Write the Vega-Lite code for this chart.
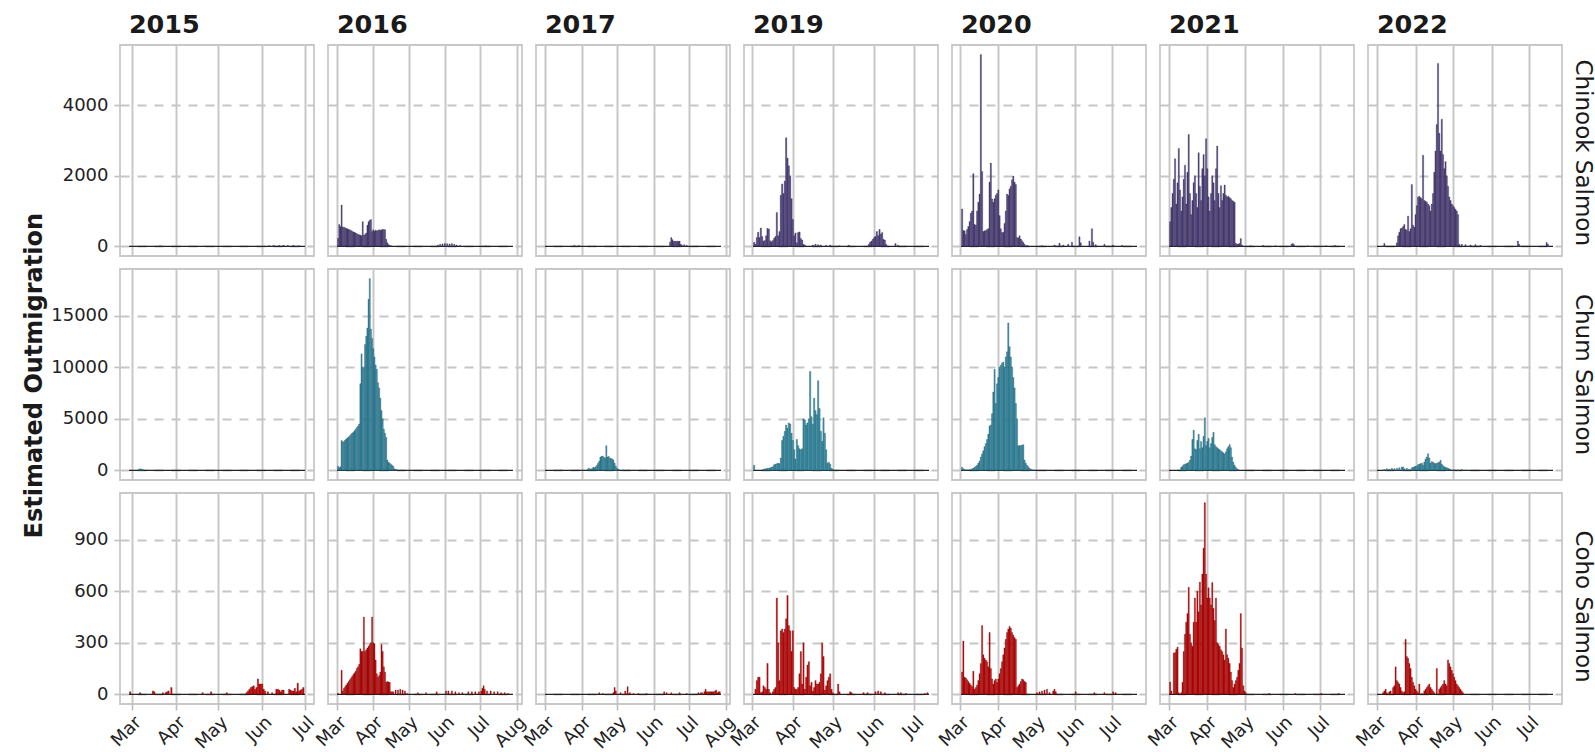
{
  "$schema": "https://vega.github.io/schema/vega-lite/v6.json",
  "background": "white",
  "padding": {"left": 22, "top": 12, "right": 2, "bottom": 0},
  "title": {"text": "Estimated Outmigration", "orient": "left", "anchor": "middle", "fontSize": 24, "fontWeight": "bold", "font": "DejaVu Sans", "color": "#1a1a1a", "offset": 4, "dx": 7},
  "config": {
    "font": "DejaVu Sans",
    "view": {"stroke": "#c8c8c8", "strokeWidth": 1.8},
    "facet": {"spacing": 14},
    "concat": {"spacing": 11},
    "axis": {"labelFont": "DejaVu Sans", "labelFontSize": 18, "labelColor": "#222222", "gridColor": "#c6c6c6", "gridWidth": 1.9, "tickColor": "#bdbdbd", "tickWidth": 1.6, "tickSize": 6, "domain": false, "title": null},
    "title": {"font": "DejaVu Sans", "color": "#1a1a1a"}
  },
  "datasets": {
    "chinook": [
      {"t":"2015-02-27","e":"2015-07-01"},{"t":"2016-03-01","e":"2016-07-29"},{"t":"2017-03-01","e":"2017-07-28"},{"t":"2019-03-02","e":"2019-07-12"},{"t":"2020-03-02","e":"2020-07-21"},{"t":"2021-03-01","e":"2021-07-21"},{"t":"2022-03-01","e":"2022-07-20"},
      {"t":"2015-03-20","v":15},{"t":"2015-04-20","v":10},{"t":"2015-06-05","v":20},{"t":"2015-06-08","v":30},{"t":"2015-06-12","v":25},{"t":"2015-06-15","v":35},{"t":"2015-06-18","v":25},{"t":"2015-06-22","v":30},{"t":"2015-06-26","v":20},
      {"t":"2016-03-01","v":230},{"t":"2016-03-02","v":620},{"t":"2016-03-03","v":560},{"t":"2016-03-04","v":1170},{"t":"2016-03-05","v":550},{"t":"2016-03-06","v":540},{"t":"2016-03-07","v":530},{"t":"2016-03-08","v":510},{"t":"2016-03-09","v":500},{"t":"2016-03-10","v":480},{"t":"2016-03-11","v":470},{"t":"2016-03-12","v":450},{"t":"2016-03-13","v":430},{"t":"2016-03-14","v":410},{"t":"2016-03-15","v":400},{"t":"2016-03-16","v":380},{"t":"2016-03-17","v":360},{"t":"2016-03-18","v":340},{"t":"2016-03-19","v":330},{"t":"2016-03-20","v":320},{"t":"2016-03-21","v":300},{"t":"2016-03-22","v":700},{"t":"2016-03-23","v":320},{"t":"2016-03-24","v":340},{"t":"2016-03-25","v":380},{"t":"2016-03-26","v":600},{"t":"2016-03-27","v":700},{"t":"2016-03-28","v":740},{"t":"2016-03-29","v":760},{"t":"2016-03-30","v":420},{"t":"2016-03-31","v":470},{"t":"2016-04-01","v":430},{"t":"2016-04-02","v":460},{"t":"2016-04-03","v":440},{"t":"2016-04-04","v":450},{"t":"2016-04-05","v":470},{"t":"2016-04-06","v":460},{"t":"2016-04-07","v":470},{"t":"2016-04-08","v":480},{"t":"2016-04-09","v":480},{"t":"2016-04-10","v":470},{"t":"2016-04-11","v":200},{"t":"2016-04-12","v":100},{"t":"2016-04-13","v":50},{"t":"2016-04-14","v":30},{"t":"2016-04-15","v":20},{"t":"2016-05-25","v":40},{"t":"2016-05-27","v":60},{"t":"2016-05-29","v":70},{"t":"2016-05-31","v":80},{"t":"2016-06-02","v":75},{"t":"2016-06-04","v":70},{"t":"2016-06-06","v":80},{"t":"2016-06-08","v":60},{"t":"2016-06-10","v":40},{"t":"2016-06-13","v":30},{"t":"2016-07-05","v":15},
      {"t":"2017-03-25","v":30},{"t":"2017-03-29","v":25},{"t":"2017-06-14","v":120},{"t":"2017-06-15","v":250},{"t":"2017-06-16","v":190},{"t":"2017-06-17","v":140},{"t":"2017-06-18","v":150},{"t":"2017-06-19","v":140},{"t":"2017-06-20","v":150},{"t":"2017-06-21","v":140},{"t":"2017-06-22","v":150},{"t":"2017-06-23","v":60},{"t":"2017-06-24","v":40},{"t":"2017-06-26","v":50},{"t":"2017-06-28","v":30},
      {"t":"2019-03-02","v":120},{"t":"2019-03-03","v":60},{"t":"2019-03-04","v":250},{"t":"2019-03-05","v":400},{"t":"2019-03-06","v":250},{"t":"2019-03-07","v":520},{"t":"2019-03-08","v":280},{"t":"2019-03-09","v":150},{"t":"2019-03-10","v":170},{"t":"2019-03-11","v":300},{"t":"2019-03-12","v":510},{"t":"2019-03-13","v":490},{"t":"2019-03-14","v":160},{"t":"2019-03-15","v":130},{"t":"2019-03-16","v":170},{"t":"2019-03-17","v":230},{"t":"2019-03-18","v":280},{"t":"2019-03-19","v":960},{"t":"2019-03-20","v":300},{"t":"2019-03-21","v":420},{"t":"2019-03-22","v":1450},{"t":"2019-03-23","v":1770},{"t":"2019-03-24","v":1500},{"t":"2019-03-25","v":1850},{"t":"2019-03-26","v":3075},{"t":"2019-03-27","v":2500},{"t":"2019-03-28","v":2280},{"t":"2019-03-29","v":2000},{"t":"2019-03-30","v":1350},{"t":"2019-03-31","v":760},{"t":"2019-04-01","v":300},{"t":"2019-04-02","v":380},{"t":"2019-04-03","v":100},{"t":"2019-04-04","v":390},{"t":"2019-04-05","v":410},{"t":"2019-04-06","v":220},{"t":"2019-04-07","v":180},{"t":"2019-04-08","v":60},{"t":"2019-04-09","v":40},{"t":"2019-04-15","v":40},{"t":"2019-04-17","v":60},{"t":"2019-04-19","v":50},{"t":"2019-04-21","v":40},{"t":"2019-04-25","v":30},{"t":"2019-04-28","v":40},{"t":"2019-05-05","v":20},{"t":"2019-05-12","v":30},{"t":"2019-05-27","v":60},{"t":"2019-05-28","v":120},{"t":"2019-05-29","v":150},{"t":"2019-05-30","v":200},{"t":"2019-05-31","v":250},{"t":"2019-06-01","v":280},{"t":"2019-06-02","v":420},{"t":"2019-06-03","v":300},{"t":"2019-06-04","v":480},{"t":"2019-06-05","v":350},{"t":"2019-06-06","v":390},{"t":"2019-06-07","v":200},{"t":"2019-06-08","v":180},{"t":"2019-06-09","v":60},{"t":"2019-06-16","v":80},{"t":"2019-06-18","v":30},
      {"t":"2020-03-02","v":1060},{"t":"2020-03-03","v":450},{"t":"2020-03-04","v":440},{"t":"2020-03-05","v":340},{"t":"2020-03-06","v":480},{"t":"2020-03-07","v":560},{"t":"2020-03-08","v":700},{"t":"2020-03-09","v":940},{"t":"2020-03-10","v":1000},{"t":"2020-03-11","v":2060},{"t":"2020-03-12","v":620},{"t":"2020-03-13","v":600},{"t":"2020-03-14","v":1000},{"t":"2020-03-15","v":1250},{"t":"2020-03-16","v":1480},{"t":"2020-03-17","v":5430},{"t":"2020-03-18","v":2120},{"t":"2020-03-19","v":420},{"t":"2020-03-20","v":440},{"t":"2020-03-21","v":450},{"t":"2020-03-22","v":480},{"t":"2020-03-23","v":500},{"t":"2020-03-24","v":1820},{"t":"2020-03-25","v":2360},{"t":"2020-03-26","v":1340},{"t":"2020-03-27","v":1250},{"t":"2020-03-28","v":1350},{"t":"2020-03-29","v":1450},{"t":"2020-03-30","v":1500},{"t":"2020-03-31","v":1600},{"t":"2020-04-01","v":870},{"t":"2020-04-02","v":500},{"t":"2020-04-03","v":390},{"t":"2020-04-04","v":400},{"t":"2020-04-05","v":650},{"t":"2020-04-06","v":1000},{"t":"2020-04-07","v":1480},{"t":"2020-04-08","v":1440},{"t":"2020-04-09","v":1630},{"t":"2020-04-10","v":1700},{"t":"2020-04-11","v":1885},{"t":"2020-04-12","v":1990},{"t":"2020-04-13","v":1820},{"t":"2020-04-14","v":1750},{"t":"2020-04-15","v":250},{"t":"2020-04-16","v":240},{"t":"2020-04-17","v":300},{"t":"2020-04-18","v":210},{"t":"2020-04-19","v":160},{"t":"2020-04-20","v":110},{"t":"2020-04-21","v":60},{"t":"2020-04-23","v":30},{"t":"2020-05-05","v":20},{"t":"2020-05-15","v":40},{"t":"2020-05-19","v":90},{"t":"2020-05-22","v":40},{"t":"2020-05-26","v":60},{"t":"2020-05-29","v":120},{"t":"2020-06-04","v":270},{"t":"2020-06-05","v":100},{"t":"2020-06-12","v":150},{"t":"2020-06-14","v":500},{"t":"2020-06-15","v":120},{"t":"2020-06-17","v":50},{"t":"2020-06-24","v":60},{"t":"2020-07-01","v":40},{"t":"2020-07-08","v":30},
      {"t":"2021-03-01","v":700},{"t":"2021-03-02","v":1100},{"t":"2021-03-03","v":1500},{"t":"2021-03-04","v":1900},{"t":"2021-03-05","v":2480},{"t":"2021-03-06","v":1200},{"t":"2021-03-07","v":1800},{"t":"2021-03-08","v":2770},{"t":"2021-03-09","v":1600},{"t":"2021-03-10","v":1000},{"t":"2021-03-11","v":1400},{"t":"2021-03-12","v":1900},{"t":"2021-03-13","v":2300},{"t":"2021-03-14","v":1200},{"t":"2021-03-15","v":2100},{"t":"2021-03-16","v":3170},{"t":"2021-03-17","v":1500},{"t":"2021-03-18","v":900},{"t":"2021-03-19","v":1300},{"t":"2021-03-20","v":1800},{"t":"2021-03-21","v":2000},{"t":"2021-03-22","v":1500},{"t":"2021-03-23","v":1100},{"t":"2021-03-24","v":2650},{"t":"2021-03-25","v":1700},{"t":"2021-03-26","v":1300},{"t":"2021-03-27","v":2200},{"t":"2021-03-28","v":2600},{"t":"2021-03-29","v":2000},{"t":"2021-03-30","v":3050},{"t":"2021-03-31","v":2200},{"t":"2021-04-01","v":1400},{"t":"2021-04-02","v":1000},{"t":"2021-04-03","v":1500},{"t":"2021-04-04","v":2000},{"t":"2021-04-05","v":1800},{"t":"2021-04-06","v":1300},{"t":"2021-04-07","v":2200},{"t":"2021-04-08","v":2840},{"t":"2021-04-09","v":1500},{"t":"2021-04-10","v":1100},{"t":"2021-04-11","v":1720},{"t":"2021-04-12","v":1300},{"t":"2021-04-13","v":1500},{"t":"2021-04-14","v":1740},{"t":"2021-04-15","v":1450},{"t":"2021-04-16","v":1400},{"t":"2021-04-17","v":1420},{"t":"2021-04-18","v":1380},{"t":"2021-04-19","v":1350},{"t":"2021-04-20","v":1300},{"t":"2021-04-21","v":1280},{"t":"2021-04-22","v":1250},{"t":"2021-04-23","v":90},{"t":"2021-04-24","v":60},{"t":"2021-04-25","v":70},{"t":"2021-04-26","v":80},{"t":"2021-04-27","v":220},{"t":"2021-04-28","v":40},{"t":"2021-05-05","v":20},{"t":"2021-05-15","v":30},{"t":"2021-05-25","v":20},{"t":"2021-06-07","v":60},{"t":"2021-06-08","v":80},{"t":"2021-06-09","v":50},{"t":"2021-06-20","v":20},{"t":"2021-07-05","v":20},{"t":"2021-07-12","v":30},
      {"t":"2022-03-06","v":80},{"t":"2022-03-16","v":100},{"t":"2022-03-17","v":300},{"t":"2022-03-18","v":400},{"t":"2022-03-19","v":500},{"t":"2022-03-20","v":520},{"t":"2022-03-21","v":560},{"t":"2022-03-22","v":620},{"t":"2022-03-23","v":480},{"t":"2022-03-24","v":460},{"t":"2022-03-25","v":860},{"t":"2022-03-26","v":420},{"t":"2022-03-27","v":500},{"t":"2022-03-28","v":1750},{"t":"2022-03-29","v":600},{"t":"2022-03-30","v":540},{"t":"2022-03-31","v":900},{"t":"2022-04-01","v":1150},{"t":"2022-04-02","v":1400},{"t":"2022-04-03","v":1420},{"t":"2022-04-04","v":1380},{"t":"2022-04-05","v":1350},{"t":"2022-04-06","v":2580},{"t":"2022-04-07","v":1300},{"t":"2022-04-08","v":1280},{"t":"2022-04-09","v":1250},{"t":"2022-04-10","v":1200},{"t":"2022-04-11","v":1150},{"t":"2022-04-12","v":1000},{"t":"2022-04-13","v":1200},{"t":"2022-04-14","v":1500},{"t":"2022-04-15","v":2100},{"t":"2022-04-16","v":2700},{"t":"2022-04-17","v":3450},{"t":"2022-04-18","v":5180},{"t":"2022-04-19","v":3200},{"t":"2022-04-20","v":2700},{"t":"2022-04-21","v":3600},{"t":"2022-04-22","v":2600},{"t":"2022-04-23","v":2200},{"t":"2022-04-24","v":2400},{"t":"2022-04-25","v":2000},{"t":"2022-04-26","v":1700},{"t":"2022-04-27","v":1400},{"t":"2022-04-28","v":1300},{"t":"2022-04-29","v":1200},{"t":"2022-04-30","v":1150},{"t":"2022-05-01","v":1100},{"t":"2022-05-02","v":1050},{"t":"2022-05-03","v":1000},{"t":"2022-05-04","v":900},{"t":"2022-05-05","v":60},{"t":"2022-05-07","v":60},{"t":"2022-05-10","v":50},{"t":"2022-05-14","v":40},{"t":"2022-05-18","v":50},{"t":"2022-05-22","v":30},{"t":"2022-06-21","v":150},{"t":"2022-06-22","v":60},{"t":"2022-07-14","v":110},{"t":"2022-07-15","v":60}
    ],
    "chum": [
      {"t":"2015-02-27","e":"2015-07-01"},{"t":"2016-03-01","e":"2016-07-29"},{"t":"2017-03-01","e":"2017-07-28"},{"t":"2019-03-02","e":"2019-07-12"},{"t":"2020-03-02","e":"2020-07-21"},{"t":"2021-03-01","e":"2021-07-21"},{"t":"2022-03-01","e":"2022-07-20"},
      {"t":"2015-03-05","v":80},{"t":"2015-03-06","v":150},{"t":"2015-03-07","v":120},{"t":"2015-03-08","v":60},{"t":"2015-03-12","v":40},{"t":"2015-03-18","v":30},
      {"t":"2016-03-01","v":400},{"t":"2016-03-02","v":250},{"t":"2016-03-03","v":350},{"t":"2016-03-04","v":2900},{"t":"2016-03-05","v":2750},{"t":"2016-03-06","v":2800},{"t":"2016-03-07","v":2950},{"t":"2016-03-08","v":3050},{"t":"2016-03-09","v":3150},{"t":"2016-03-10","v":3250},{"t":"2016-03-11","v":3350},{"t":"2016-03-12","v":3500},{"t":"2016-03-13","v":3600},{"t":"2016-03-14","v":3700},{"t":"2016-03-15","v":3850},{"t":"2016-03-16","v":4000},{"t":"2016-03-17","v":4150},{"t":"2016-03-18","v":4300},{"t":"2016-03-19","v":4500},{"t":"2016-03-20","v":8400},{"t":"2016-03-21","v":11300},{"t":"2016-03-22","v":10000},{"t":"2016-03-23","v":9900},{"t":"2016-03-24","v":12200},{"t":"2016-03-25","v":13000},{"t":"2016-03-26","v":13800},{"t":"2016-03-27","v":16600},{"t":"2016-03-28","v":18600},{"t":"2016-03-29","v":13700},{"t":"2016-03-30","v":12800},{"t":"2016-03-31","v":11800},{"t":"2016-04-01","v":11000},{"t":"2016-04-02","v":10200},{"t":"2016-04-03","v":9800},{"t":"2016-04-04","v":8500},{"t":"2016-04-05","v":8000},{"t":"2016-04-06","v":7000},{"t":"2016-04-07","v":5800},{"t":"2016-04-08","v":5000},{"t":"2016-04-09","v":4000},{"t":"2016-04-10","v":3600},{"t":"2016-04-11","v":3200},{"t":"2016-04-12","v":1000},{"t":"2016-04-13","v":800},{"t":"2016-04-14","v":700},{"t":"2016-04-15","v":600},{"t":"2016-04-16","v":500},{"t":"2016-04-17","v":400},{"t":"2016-04-18","v":150},{"t":"2016-04-19","v":100},{"t":"2016-04-20","v":60},{"t":"2016-04-25","v":40},{"t":"2016-05-01","v":30},
      {"t":"2017-03-10","v":40},{"t":"2017-03-14","v":50},{"t":"2017-03-20","v":30},{"t":"2017-03-28","v":50},{"t":"2017-04-01","v":40},{"t":"2017-04-05","v":60},{"t":"2017-04-06","v":200},{"t":"2017-04-07","v":150},{"t":"2017-04-08","v":100},{"t":"2017-04-09","v":180},{"t":"2017-04-10","v":300},{"t":"2017-04-11","v":250},{"t":"2017-04-12","v":350},{"t":"2017-04-13","v":500},{"t":"2017-04-14","v":700},{"t":"2017-04-15","v":900},{"t":"2017-04-16","v":1300},{"t":"2017-04-17","v":1350},{"t":"2017-04-18","v":1400},{"t":"2017-04-19","v":1250},{"t":"2017-04-20","v":1200},{"t":"2017-04-21","v":2400},{"t":"2017-04-22","v":1300},{"t":"2017-04-23","v":1350},{"t":"2017-04-24","v":1200},{"t":"2017-04-25","v":1150},{"t":"2017-04-26","v":1100},{"t":"2017-04-27","v":1000},{"t":"2017-04-28","v":700},{"t":"2017-04-29","v":400},{"t":"2017-04-30","v":200},{"t":"2017-05-01","v":100},{"t":"2017-05-02","v":60},{"t":"2017-05-05","v":40},{"t":"2017-05-10","v":50},{"t":"2017-05-15","v":40},{"t":"2017-05-20","v":30},
      {"t":"2019-03-02","v":500},{"t":"2019-03-09","v":100},{"t":"2019-03-10","v":150},{"t":"2019-03-11","v":150},{"t":"2019-03-12","v":200},{"t":"2019-03-13","v":200},{"t":"2019-03-14","v":250},{"t":"2019-03-15","v":300},{"t":"2019-03-16","v":350},{"t":"2019-03-17","v":550},{"t":"2019-03-18","v":600},{"t":"2019-03-19","v":650},{"t":"2019-03-20","v":700},{"t":"2019-03-21","v":650},{"t":"2019-03-22","v":1200},{"t":"2019-03-23","v":2900},{"t":"2019-03-24","v":3300},{"t":"2019-03-25","v":3800},{"t":"2019-03-26","v":4400},{"t":"2019-03-27","v":4100},{"t":"2019-03-28","v":4600},{"t":"2019-03-29","v":4500},{"t":"2019-03-30","v":3600},{"t":"2019-03-31","v":2900},{"t":"2019-04-01","v":2000},{"t":"2019-04-02","v":1100},{"t":"2019-04-03","v":3000},{"t":"2019-04-04","v":2400},{"t":"2019-04-05","v":2100},{"t":"2019-04-06","v":2000},{"t":"2019-04-07","v":2100},{"t":"2019-04-08","v":5000},{"t":"2019-04-09","v":4900},{"t":"2019-04-10","v":4400},{"t":"2019-04-11","v":4600},{"t":"2019-04-12","v":5000},{"t":"2019-04-13","v":9600},{"t":"2019-04-14","v":5200},{"t":"2019-04-15","v":4500},{"t":"2019-04-16","v":7000},{"t":"2019-04-17","v":5800},{"t":"2019-04-18","v":5400},{"t":"2019-04-19","v":8700},{"t":"2019-04-20","v":6000},{"t":"2019-04-21","v":3800},{"t":"2019-04-22","v":2800},{"t":"2019-04-23","v":5100},{"t":"2019-04-24","v":3600},{"t":"2019-04-25","v":2000},{"t":"2019-04-26","v":700},{"t":"2019-04-27","v":800},{"t":"2019-04-28","v":600},{"t":"2019-04-29","v":200},{"t":"2019-04-30","v":100},
      {"t":"2020-03-02","v":300},{"t":"2020-03-03","v":150},{"t":"2020-03-04","v":80},{"t":"2020-03-06","v":60},{"t":"2020-03-08","v":100},{"t":"2020-03-10","v":150},{"t":"2020-03-11","v":200},{"t":"2020-03-12","v":300},{"t":"2020-03-13","v":400},{"t":"2020-03-14","v":500},{"t":"2020-03-15","v":700},{"t":"2020-03-16","v":900},{"t":"2020-03-17","v":1300},{"t":"2020-03-18","v":1600},{"t":"2020-03-19","v":1900},{"t":"2020-03-20","v":2300},{"t":"2020-03-21","v":2600},{"t":"2020-03-22","v":3000},{"t":"2020-03-23","v":3500},{"t":"2020-03-24","v":4300},{"t":"2020-03-25","v":4400},{"t":"2020-03-26","v":5500},{"t":"2020-03-27","v":7600},{"t":"2020-03-28","v":9800},{"t":"2020-03-29","v":6500},{"t":"2020-03-30","v":8400},{"t":"2020-03-31","v":9000},{"t":"2020-04-01","v":10000},{"t":"2020-04-02","v":10200},{"t":"2020-04-03","v":10400},{"t":"2020-04-04","v":10500},{"t":"2020-04-05","v":10000},{"t":"2020-04-06","v":11000},{"t":"2020-04-07","v":11500},{"t":"2020-04-08","v":14300},{"t":"2020-04-09","v":12000},{"t":"2020-04-10","v":11000},{"t":"2020-04-11","v":10000},{"t":"2020-04-12","v":9000},{"t":"2020-04-13","v":8000},{"t":"2020-04-14","v":6500},{"t":"2020-04-15","v":5000},{"t":"2020-04-16","v":2400},{"t":"2020-04-17","v":2400},{"t":"2020-04-18","v":2400},{"t":"2020-04-19","v":2450},{"t":"2020-04-20","v":2500},{"t":"2020-04-21","v":1000},{"t":"2020-04-22","v":700},{"t":"2020-04-23","v":500},{"t":"2020-04-24","v":350},{"t":"2020-04-25","v":200},{"t":"2020-04-26","v":120},{"t":"2020-04-27","v":80},{"t":"2020-04-29","v":50},
      {"t":"2021-03-10","v":300},{"t":"2021-03-11","v":400},{"t":"2021-03-12","v":550},{"t":"2021-03-13","v":600},{"t":"2021-03-14","v":650},{"t":"2021-03-15","v":700},{"t":"2021-03-16","v":800},{"t":"2021-03-17","v":1000},{"t":"2021-03-18","v":1400},{"t":"2021-03-19","v":3000},{"t":"2021-03-20","v":3900},{"t":"2021-03-21","v":2100},{"t":"2021-03-22","v":2000},{"t":"2021-03-23","v":2900},{"t":"2021-03-24","v":3500},{"t":"2021-03-25","v":2100},{"t":"2021-03-26","v":2800},{"t":"2021-03-27","v":2200},{"t":"2021-03-28","v":3300},{"t":"2021-03-29","v":5100},{"t":"2021-03-30","v":2400},{"t":"2021-03-31","v":2800},{"t":"2021-04-01","v":3100},{"t":"2021-04-02","v":2200},{"t":"2021-04-03","v":2600},{"t":"2021-04-04","v":3200},{"t":"2021-04-05","v":3700},{"t":"2021-04-06","v":2500},{"t":"2021-04-07","v":2300},{"t":"2021-04-08","v":2200},{"t":"2021-04-09","v":2100},{"t":"2021-04-10","v":2000},{"t":"2021-04-11","v":1900},{"t":"2021-04-12","v":1800},{"t":"2021-04-13","v":1700},{"t":"2021-04-14","v":1600},{"t":"2021-04-15","v":1800},{"t":"2021-04-16","v":2100},{"t":"2021-04-17","v":2300},{"t":"2021-04-18","v":2500},{"t":"2021-04-19","v":2200},{"t":"2021-04-20","v":1300},{"t":"2021-04-21","v":800},{"t":"2021-04-22","v":500},{"t":"2021-04-23","v":300},{"t":"2021-04-24","v":150},{"t":"2021-04-25","v":80},
      {"t":"2022-03-06","v":80},{"t":"2022-03-08","v":150},{"t":"2022-03-10","v":120},{"t":"2022-03-12","v":200},{"t":"2022-03-14","v":160},{"t":"2022-03-16","v":220},{"t":"2022-03-18","v":260},{"t":"2022-03-20","v":320},{"t":"2022-03-21","v":330},{"t":"2022-03-22","v":150},{"t":"2022-03-24","v":200},{"t":"2022-03-26","v":100},{"t":"2022-03-28","v":250},{"t":"2022-03-29","v":300},{"t":"2022-03-30","v":350},{"t":"2022-03-31","v":400},{"t":"2022-04-01","v":420},{"t":"2022-04-02","v":550},{"t":"2022-04-03","v":600},{"t":"2022-04-04","v":650},{"t":"2022-04-05","v":700},{"t":"2022-04-06","v":500},{"t":"2022-04-07","v":800},{"t":"2022-04-08","v":1100},{"t":"2022-04-09","v":1300},{"t":"2022-04-10","v":1620},{"t":"2022-04-11","v":1200},{"t":"2022-04-12","v":700},{"t":"2022-04-13","v":850},{"t":"2022-04-14","v":800},{"t":"2022-04-15","v":700},{"t":"2022-04-16","v":650},{"t":"2022-04-17","v":700},{"t":"2022-04-18","v":750},{"t":"2022-04-19","v":800},{"t":"2022-04-20","v":980},{"t":"2022-04-21","v":600},{"t":"2022-04-22","v":450},{"t":"2022-04-23","v":350},{"t":"2022-04-24","v":300},{"t":"2022-04-25","v":250},{"t":"2022-04-26","v":200},{"t":"2022-04-27","v":150},{"t":"2022-04-28","v":100},{"t":"2022-05-01","v":60},{"t":"2022-05-04","v":40},{"t":"2022-05-07","v":80},{"t":"2022-05-10","v":40}
    ],
    "coho": [
      {"t":"2015-02-27","e":"2015-07-01"},{"t":"2016-03-01","e":"2016-07-29"},{"t":"2017-03-01","e":"2017-07-28"},{"t":"2019-03-02","e":"2019-07-12"},{"t":"2020-03-02","e":"2020-07-21"},{"t":"2021-03-01","e":"2021-07-21"},{"t":"2022-03-01","e":"2022-07-20"},
      {"t":"2015-02-27","v":15},{"t":"2015-03-06","v":10},{"t":"2015-03-15","v":20},{"t":"2015-03-16","v":15},{"t":"2015-03-22","v":10},{"t":"2015-03-24","v":10},{"t":"2015-03-25","v":15},{"t":"2015-03-26","v":20},{"t":"2015-03-28","v":40},{"t":"2015-04-19","v":10},{"t":"2015-04-25","v":15},{"t":"2015-05-06","v":10},{"t":"2015-05-20","v":10},{"t":"2015-05-21","v":20},{"t":"2015-05-22","v":30},{"t":"2015-05-23","v":40},{"t":"2015-05-24","v":45},{"t":"2015-05-25","v":50},{"t":"2015-05-26","v":30},{"t":"2015-05-27","v":40},{"t":"2015-05-28","v":90},{"t":"2015-05-29","v":60},{"t":"2015-05-30","v":60},{"t":"2015-05-31","v":60},{"t":"2015-06-01","v":30},{"t":"2015-06-02","v":20},{"t":"2015-06-04","v":15},{"t":"2015-06-07","v":10},{"t":"2015-06-10","v":30},{"t":"2015-06-11","v":30},{"t":"2015-06-12","v":25},{"t":"2015-06-13","v":15},{"t":"2015-06-14","v":25},{"t":"2015-06-15","v":25},{"t":"2015-06-19","v":30},{"t":"2015-06-20","v":25},{"t":"2015-06-21","v":20},{"t":"2015-06-22","v":20},{"t":"2015-06-23","v":35},{"t":"2015-06-24","v":15},{"t":"2015-06-25","v":65},{"t":"2015-06-26","v":20},{"t":"2015-06-27","v":25},{"t":"2015-06-28","v":30},{"t":"2015-06-29","v":40},
      {"t":"2016-03-01","v":5},{"t":"2016-03-04","v":140},{"t":"2016-03-05","v":20},{"t":"2016-03-06","v":35},{"t":"2016-03-07","v":45},{"t":"2016-03-08","v":55},{"t":"2016-03-09","v":65},{"t":"2016-03-10","v":75},{"t":"2016-03-11","v":85},{"t":"2016-03-12","v":95},{"t":"2016-03-13","v":105},{"t":"2016-03-14","v":115},{"t":"2016-03-15","v":125},{"t":"2016-03-16","v":135},{"t":"2016-03-17","v":150},{"t":"2016-03-18","v":160},{"t":"2016-03-19","v":175},{"t":"2016-03-20","v":265},{"t":"2016-03-21","v":250},{"t":"2016-03-22","v":250},{"t":"2016-03-23","v":450},{"t":"2016-03-24","v":250},{"t":"2016-03-25","v":260},{"t":"2016-03-26","v":270},{"t":"2016-03-27","v":280},{"t":"2016-03-28","v":290},{"t":"2016-03-29","v":300},{"t":"2016-03-30","v":450},{"t":"2016-03-31","v":300},{"t":"2016-04-01","v":295},{"t":"2016-04-02","v":200},{"t":"2016-04-03","v":120},{"t":"2016-04-04","v":100},{"t":"2016-04-05","v":110},{"t":"2016-04-06","v":130},{"t":"2016-04-07","v":290},{"t":"2016-04-08","v":250},{"t":"2016-04-09","v":160},{"t":"2016-04-10","v":130},{"t":"2016-04-11","v":70},{"t":"2016-04-12","v":75},{"t":"2016-04-13","v":72},{"t":"2016-04-14","v":70},{"t":"2016-04-15","v":15},{"t":"2016-04-16","v":15},{"t":"2016-04-17","v":15},{"t":"2016-04-19","v":25},{"t":"2016-04-21","v":25},{"t":"2016-04-23","v":30},{"t":"2016-04-25","v":25},{"t":"2016-04-27","v":20},{"t":"2016-04-29","v":5},{"t":"2016-05-08","v":10},{"t":"2016-05-15","v":10},{"t":"2016-05-24","v":15},{"t":"2016-06-01","v":20},{"t":"2016-06-03","v":20},{"t":"2016-06-06","v":20},{"t":"2016-06-09","v":15},{"t":"2016-06-12","v":10},{"t":"2016-06-15","v":10},{"t":"2016-06-20","v":15},{"t":"2016-06-23","v":15},{"t":"2016-06-26","v":15},{"t":"2016-06-29","v":15},{"t":"2016-07-01","v":20},{"t":"2016-07-02","v":35},{"t":"2016-07-03","v":50},{"t":"2016-07-04","v":30},{"t":"2016-07-06","v":20},{"t":"2016-07-09","v":20},{"t":"2016-07-12","v":15},{"t":"2016-07-15","v":15},{"t":"2016-07-18","v":10},{"t":"2016-07-21","v":10},{"t":"2016-07-24","v":5},
      {"t":"2017-04-15","v":10},{"t":"2017-04-18","v":5},{"t":"2017-04-27","v":10},{"t":"2017-04-28","v":40},{"t":"2017-04-29","v":20},{"t":"2017-05-03","v":10},{"t":"2017-05-07","v":20},{"t":"2017-05-09","v":45},{"t":"2017-05-11","v":10},{"t":"2017-05-14","v":5},{"t":"2017-05-18","v":5},{"t":"2017-05-25","v":5},{"t":"2017-06-09","v":15},{"t":"2017-06-11","v":10},{"t":"2017-06-15","v":10},{"t":"2017-06-22","v":10},{"t":"2017-06-28","v":5},{"t":"2017-07-08","v":10},{"t":"2017-07-10","v":10},{"t":"2017-07-11","v":10},{"t":"2017-07-13","v":15},{"t":"2017-07-14","v":30},{"t":"2017-07-15","v":15},{"t":"2017-07-16","v":15},{"t":"2017-07-17","v":15},{"t":"2017-07-18","v":15},{"t":"2017-07-19","v":15},{"t":"2017-07-20","v":15},{"t":"2017-07-21","v":15},{"t":"2017-07-22","v":20},{"t":"2017-07-23","v":25},{"t":"2017-07-24","v":10},{"t":"2017-07-25","v":15},{"t":"2017-07-26","v":15},
      {"t":"2019-03-03","v":30},{"t":"2019-03-04","v":80},{"t":"2019-03-05","v":100},{"t":"2019-03-06","v":100},{"t":"2019-03-07","v":10},{"t":"2019-03-08","v":15},{"t":"2019-03-09","v":50},{"t":"2019-03-10","v":40},{"t":"2019-03-11","v":30},{"t":"2019-03-12","v":180},{"t":"2019-03-13","v":30},{"t":"2019-03-14","v":10},{"t":"2019-03-16","v":15},{"t":"2019-03-17","v":30},{"t":"2019-03-18","v":40},{"t":"2019-03-19","v":560},{"t":"2019-03-20","v":300},{"t":"2019-03-21","v":80},{"t":"2019-03-22","v":370},{"t":"2019-03-23","v":380},{"t":"2019-03-24","v":360},{"t":"2019-03-25","v":380},{"t":"2019-03-26","v":440},{"t":"2019-03-27","v":575},{"t":"2019-03-28","v":400},{"t":"2019-03-29","v":370},{"t":"2019-03-30","v":250},{"t":"2019-03-31","v":370},{"t":"2019-04-01","v":40},{"t":"2019-04-02","v":30},{"t":"2019-04-03","v":30},{"t":"2019-04-04","v":40},{"t":"2019-04-05","v":120},{"t":"2019-04-06","v":250},{"t":"2019-04-07","v":60},{"t":"2019-04-08","v":300},{"t":"2019-04-09","v":30},{"t":"2019-04-10","v":100},{"t":"2019-04-11","v":170},{"t":"2019-04-12","v":190},{"t":"2019-04-13","v":50},{"t":"2019-04-14","v":70},{"t":"2019-04-15","v":20},{"t":"2019-04-16","v":40},{"t":"2019-04-17","v":80},{"t":"2019-04-18","v":60},{"t":"2019-04-19","v":60},{"t":"2019-04-20","v":70},{"t":"2019-04-21","v":120},{"t":"2019-04-22","v":300},{"t":"2019-04-23","v":220},{"t":"2019-04-24","v":25},{"t":"2019-04-25","v":50},{"t":"2019-04-26","v":80},{"t":"2019-04-27","v":100},{"t":"2019-04-28","v":120},{"t":"2019-04-29","v":30},{"t":"2019-04-30","v":10},{"t":"2019-05-04","v":60},{"t":"2019-05-05","v":15},{"t":"2019-05-13","v":15},{"t":"2019-05-14","v":10},{"t":"2019-05-23","v":10},{"t":"2019-05-26","v":10},{"t":"2019-06-01","v":15},{"t":"2019-06-03","v":20},{"t":"2019-06-05","v":15},{"t":"2019-06-08","v":10},{"t":"2019-06-18","v":10},{"t":"2019-06-20","v":10},{"t":"2019-06-24","v":5},{"t":"2019-07-08","v":5},{"t":"2019-07-10","v":10},
      {"t":"2020-03-02","v":130},{"t":"2020-03-03","v":310},{"t":"2020-03-04","v":100},{"t":"2020-03-05","v":95},{"t":"2020-03-06","v":85},{"t":"2020-03-07","v":75},{"t":"2020-03-08","v":65},{"t":"2020-03-09","v":55},{"t":"2020-03-10","v":45},{"t":"2020-03-11","v":135},{"t":"2020-03-12","v":30},{"t":"2020-03-13","v":40},{"t":"2020-03-14","v":55},{"t":"2020-03-15","v":80},{"t":"2020-03-16","v":120},{"t":"2020-03-17","v":180},{"t":"2020-03-18","v":400},{"t":"2020-03-19","v":230},{"t":"2020-03-20","v":210},{"t":"2020-03-21","v":200},{"t":"2020-03-22","v":190},{"t":"2020-03-23","v":160},{"t":"2020-03-24","v":360},{"t":"2020-03-25","v":150},{"t":"2020-03-26","v":90},{"t":"2020-03-27","v":60},{"t":"2020-03-28","v":80},{"t":"2020-03-29","v":90},{"t":"2020-03-30","v":70},{"t":"2020-03-31","v":90},{"t":"2020-04-01","v":120},{"t":"2020-04-02","v":150},{"t":"2020-04-03","v":190},{"t":"2020-04-04","v":230},{"t":"2020-04-05","v":270},{"t":"2020-04-06","v":320},{"t":"2020-04-07","v":360},{"t":"2020-04-08","v":380},{"t":"2020-04-09","v":395},{"t":"2020-04-10","v":385},{"t":"2020-04-11","v":360},{"t":"2020-04-12","v":345},{"t":"2020-04-13","v":330},{"t":"2020-04-14","v":320},{"t":"2020-04-15","v":40},{"t":"2020-04-16","v":50},{"t":"2020-04-17","v":60},{"t":"2020-04-18","v":75},{"t":"2020-04-19","v":90},{"t":"2020-04-20","v":85},{"t":"2020-04-21","v":75},{"t":"2020-04-22","v":70},{"t":"2020-05-01","v":10},{"t":"2020-05-03","v":15},{"t":"2020-05-05","v":20},{"t":"2020-05-07","v":25},{"t":"2020-05-09","v":30},{"t":"2020-05-11","v":10},{"t":"2020-05-14","v":20},{"t":"2020-05-15","v":30},{"t":"2020-05-16","v":15},{"t":"2020-06-01","v":15},{"t":"2020-06-16","v":10},{"t":"2020-06-24","v":10},{"t":"2020-07-01","v":15},{"t":"2020-07-03","v":10},
      {"t":"2021-03-01","v":72},{"t":"2021-03-02","v":20},{"t":"2021-03-04","v":240},{"t":"2021-03-05","v":243},{"t":"2021-03-06","v":263},{"t":"2021-03-07","v":275},{"t":"2021-03-08","v":10},{"t":"2021-03-10","v":10},{"t":"2021-03-11","v":70},{"t":"2021-03-12","v":250},{"t":"2021-03-13","v":350},{"t":"2021-03-14","v":420},{"t":"2021-03-15","v":470},{"t":"2021-03-16","v":623},{"t":"2021-03-17","v":350},{"t":"2021-03-18","v":300},{"t":"2021-03-19","v":280},{"t":"2021-03-20","v":420},{"t":"2021-03-21","v":560},{"t":"2021-03-22","v":420},{"t":"2021-03-23","v":600},{"t":"2021-03-24","v":480},{"t":"2021-03-25","v":653},{"t":"2021-03-26","v":520},{"t":"2021-03-27","v":700},{"t":"2021-03-28","v":850},{"t":"2021-03-29","v":1115},{"t":"2021-03-30","v":700},{"t":"2021-03-31","v":560},{"t":"2021-04-01","v":620},{"t":"2021-04-02","v":560},{"t":"2021-04-03","v":520},{"t":"2021-04-04","v":650},{"t":"2021-04-05","v":500},{"t":"2021-04-06","v":430},{"t":"2021-04-07","v":560},{"t":"2021-04-08","v":300},{"t":"2021-04-09","v":290},{"t":"2021-04-10","v":280},{"t":"2021-04-11","v":260},{"t":"2021-04-12","v":250},{"t":"2021-04-13","v":230},{"t":"2021-04-14","v":200},{"t":"2021-04-15","v":380},{"t":"2021-04-16","v":230},{"t":"2021-04-17","v":210},{"t":"2021-04-18","v":180},{"t":"2021-04-19","v":130},{"t":"2021-04-20","v":80},{"t":"2021-04-21","v":40},{"t":"2021-04-22","v":60},{"t":"2021-04-23","v":80},{"t":"2021-04-24","v":100},{"t":"2021-04-25","v":140},{"t":"2021-04-26","v":180},{"t":"2021-04-27","v":470},{"t":"2021-04-28","v":270},{"t":"2021-04-29","v":50},{"t":"2021-04-30","v":20},{"t":"2021-05-01","v":10},{"t":"2021-05-20","v":5},{"t":"2021-06-10","v":5},{"t":"2021-07-01","v":5},{"t":"2021-07-15","v":5},
      {"t":"2022-03-05","v":10},{"t":"2022-03-06","v":20},{"t":"2022-03-07","v":30},{"t":"2022-03-08","v":10},{"t":"2022-03-10","v":15},{"t":"2022-03-11","v":20},{"t":"2022-03-13","v":40},{"t":"2022-03-14","v":50},{"t":"2022-03-15","v":160},{"t":"2022-03-16","v":80},{"t":"2022-03-17","v":70},{"t":"2022-03-18","v":60},{"t":"2022-03-19","v":40},{"t":"2022-03-20","v":20},{"t":"2022-03-21","v":10},{"t":"2022-03-22","v":15},{"t":"2022-03-23","v":320},{"t":"2022-03-24","v":220},{"t":"2022-03-25","v":210},{"t":"2022-03-26","v":180},{"t":"2022-03-27","v":150},{"t":"2022-03-28","v":100},{"t":"2022-03-29","v":70},{"t":"2022-03-30","v":50},{"t":"2022-03-31","v":30},{"t":"2022-04-01","v":20},{"t":"2022-04-02","v":10},{"t":"2022-04-03","v":60},{"t":"2022-04-05","v":5},{"t":"2022-04-07","v":20},{"t":"2022-04-08","v":30},{"t":"2022-04-09","v":40},{"t":"2022-04-10","v":50},{"t":"2022-04-11","v":60},{"t":"2022-04-12","v":40},{"t":"2022-04-13","v":30},{"t":"2022-04-14","v":20},{"t":"2022-04-15","v":10},{"t":"2022-04-17","v":150},{"t":"2022-04-19","v":30},{"t":"2022-04-20","v":40},{"t":"2022-04-21","v":50},{"t":"2022-04-22","v":60},{"t":"2022-04-23","v":80},{"t":"2022-04-24","v":60},{"t":"2022-04-25","v":50},{"t":"2022-04-26","v":200},{"t":"2022-04-27","v":180},{"t":"2022-04-28","v":160},{"t":"2022-04-29","v":140},{"t":"2022-04-30","v":120},{"t":"2022-05-01","v":100},{"t":"2022-05-02","v":80},{"t":"2022-05-03","v":60},{"t":"2022-05-04","v":50},{"t":"2022-05-05","v":40},{"t":"2022-05-06","v":30},{"t":"2022-05-07","v":20},{"t":"2022-05-08","v":10}
    ]
  },
  "vconcat": [
    {
      "data": {"name": "chinook"},
      "bounds": "flush",
      "title": {"text": "Chinook Salmon", "orient": "right", "anchor": "middle", "fontSize": 23, "fontWeight": "normal", "offset": 8, "dx": 18},
      "facet": {"column": {"field": "t", "timeUnit": "utcyear", "type": "ordinal", "title": null,
        "header": {"labelFont": "DejaVu Sans", "labelFontSize": 25.5, "labelFontWeight": "bold", "labelColor": "#1a1a1a", "labelAnchor": "start", "labelAlign": "left", "labelBaseline": "alphabetic", "labelPadding": -13, "labelExpr": "'\u200b\u00a0' + datum.label"}}},
      "spec": {
        "width": 194, "height": 211,
        "layer": [
          {"transform": [{"filter": "isValid(datum.e)"}], "mark": {"type": "rule", "color": "#222222", "strokeWidth": 1.4}, "encoding": {"x": {"field": "t", "type": "temporal"}, "x2": {"field": "e"}, "y": {"datum": 0}}},
          {"transform": [{"filter": "isValid(datum.v)"}], "mark": {"type": "bar", "fill": "#5a4893", "stroke": "#111111", "strokeWidth": 0.25, "binSpacing": 0},
           "encoding": {
             "x": {"field": "t", "timeUnit": "utcyearmonthdate", "type": "temporal", "scale": {"type": "utc", "nice": false, "padding": 9},
                   "axis": {"labels": false, "ticks": false, "grid": true, "tickCount": {"interval": "month", "step": 1}}},
             "y": {"field": "v", "type": "quantitative", "scale": {"domain": [-272, 5702], "nice": false},
                   "axis": {"values": [0, 2000, 4000], "format": "d", "grid": true, "gridDash": [9, 8], "labelPadding": 6, "minExtent": 68, "maxExtent": 68}},
             "y2": {"datum": 0}
           }}
        ]
      },
      "resolve": {"scale": {"x": "independent"}}
    },
    {
      "data": {"name": "chum"},
      "bounds": "flush",
      "title": {"text": "Chum Salmon", "orient": "right", "anchor": "middle", "fontSize": 23, "fontWeight": "normal", "offset": 8},
      "facet": {"column": {"field": "t", "timeUnit": "utcyear", "type": "ordinal", "title": null, "header": {"labels": false}}},
      "spec": {
        "width": 194, "height": 211,
        "layer": [
          {"transform": [{"filter": "isValid(datum.e)"}], "mark": {"type": "rule", "color": "#222222", "strokeWidth": 1.4}, "encoding": {"x": {"field": "t", "type": "temporal"}, "x2": {"field": "e"}, "y": {"datum": 0}}},
          {"transform": [{"filter": "isValid(datum.v)"}], "mark": {"type": "bar", "fill": "#35a3c4", "stroke": "#111111", "strokeWidth": 0.25, "binSpacing": 0},
           "encoding": {
             "x": {"field": "t", "timeUnit": "utcyearmonthdate", "type": "temporal", "scale": {"type": "utc", "nice": false, "padding": 9},
                   "axis": {"labels": false, "ticks": false, "grid": true, "tickCount": {"interval": "month", "step": 1}}},
             "y": {"field": "v", "type": "quantitative", "scale": {"domain": [-930, 19530], "nice": false},
                   "axis": {"values": [0, 5000, 10000, 15000], "format": "d", "grid": true, "gridDash": [9, 8], "labelPadding": 6, "minExtent": 68, "maxExtent": 68}},
             "y2": {"datum": 0}
           }}
        ]
      },
      "resolve": {"scale": {"x": "independent"}}
    },
    {
      "data": {"name": "coho"},
      "bounds": "flush",
      "title": {"text": "Coho Salmon", "orient": "right", "anchor": "middle", "fontSize": 23, "fontWeight": "normal", "offset": 8, "dx": -16},
      "facet": {"column": {"field": "t", "timeUnit": "utcyear", "type": "ordinal", "title": null, "header": {"labels": false}}},
      "spec": {
        "width": 194, "height": 211,
        "layer": [
          {"transform": [{"filter": "isValid(datum.e)"}], "mark": {"type": "rule", "color": "#222222", "strokeWidth": 1.4}, "encoding": {"x": {"field": "t", "type": "temporal"}, "x2": {"field": "e"}, "y": {"datum": 0}}},
          {"transform": [{"filter": "isValid(datum.v)"}], "mark": {"type": "bar", "fill": "#e80000", "stroke": "#111111", "strokeWidth": 0.25, "binSpacing": 0},
           "encoding": {
             "x": {"field": "t", "timeUnit": "utcyearmonthdate", "type": "temporal", "scale": {"type": "utc", "nice": false, "padding": 9},
                   "axis": {"labelExpr": "utcFormat(datum.value, '%b')", "tickCount": {"interval": "month", "step": 1}, "labelAngle": -45, "labelAlign": "right", "labelBaseline": "top", "labelPadding": 3, "labelOverlap": false, "labelFlush": false, "grid": true, "ticks": true}},
             "y": {"field": "v", "type": "quantitative", "scale": {"domain": [-56, 1171], "nice": false},
                   "axis": {"values": [0, 300, 600, 900], "format": "d", "grid": true, "gridDash": [9, 8], "labelPadding": 6, "minExtent": 68, "maxExtent": 68}},
             "y2": {"datum": 0}
           }}
        ]
      },
      "resolve": {"scale": {"x": "independent"}}
    }
  ]
}
